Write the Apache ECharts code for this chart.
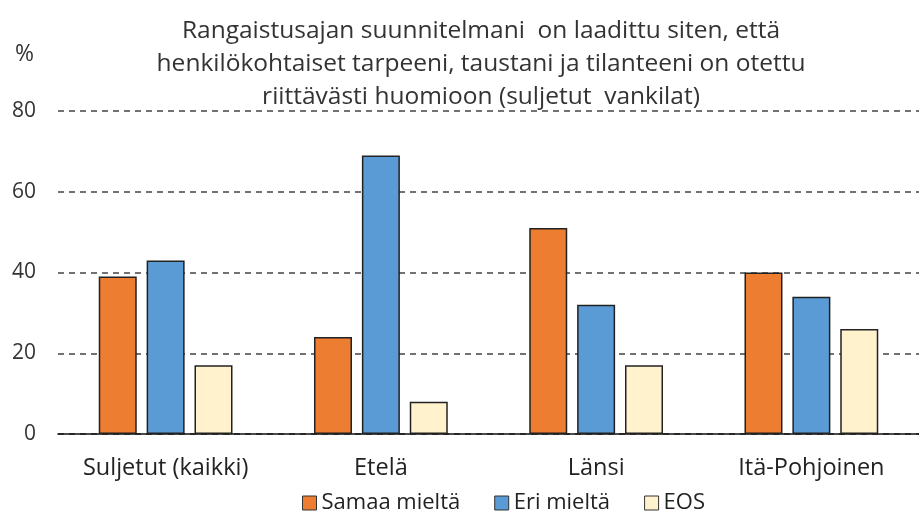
<!DOCTYPE html>
<html><head><meta charset="utf-8">
<script src="https://cdn.jsdelivr.net/npm/echarts@6/dist/echarts.min.js"></script>
<style>html,body{margin:0;padding:0;background:#fff}#c{width:919px;height:513px}</style>
</head><body><div id="c"></div>
<script>
const categories = ["Suljetut (kaikki)", "Etelä", "Länsi", "Itä-Pohjoinen"];
const seriesNames = ["Samaa mieltä", "Eri mieltä", "EOS"];
const samaa = [39, 24, 51, 40];
const eri = [43, 69, 32, 34];
const eos = [17, 8, 17, 26];
const yTicks = [0, 20, 40, 60, 80];
const titleLines = ["Rangaistusajan suunnitelmani  on laadittu siten, että",
  "henkilökohtaiset tarpeeni, taustani ja tilanteeni on otettu",
  "riittävästi huomioon (suljetut  vankilat)"];
const unitLabel = "%";

const colors = ["#ED7D31", "#5B9BD5", "#FFF2CC"];
const font = "'Open Sans', 'Noto Sans', sans-serif";
const chart = echarts.init(document.getElementById('c'), null, {renderer: 'canvas'});
const vals = [samaa, eri, eos];
chart.setOption({
  animation: false,
  title: [{
    text: titleLines.join("\n"),
    left: 476, top: 10, textAlign: 'center',
    textStyle: {fontFamily: font, fontSize: 24.5, fontWeight: 'normal', color: '#333', lineHeight: 33}
  }, {
    text: unitLabel, left: 15, top: 43, padding: 0,
    textStyle: {fontFamily: font, fontSize: 23, fontWeight: 'normal', color: '#333'}
  }],
  legend: {
    data: seriesNames, top: 487, left: 297, itemWidth: 14, itemHeight: 14, itemGap: 34,
    icon: 'rect',
    itemStyle: {borderColor: '#333', borderWidth: 1},
    textStyle: {fontFamily: font, fontSize: 22, color: '#222', padding: [0, 0, 0, 0]}
  },
  grid: {left: 58, right: 0, top: 111, bottom: 79, containLabel: false},
  xAxis: {
    type: 'category', data: categories,
    axisTick: {show: false},
    axisLine: {lineStyle: {color: '#111', width: 1.5}},
    axisLabel: {fontFamily: font, fontSize: 23.5, color: '#222', margin: 22}
  },
  yAxis: {
    type: 'value', min: yTicks[0], max: yTicks[yTicks.length - 1], interval: 20,
    axisLine: {show: false}, axisTick: {show: false},
    axisLabel: {fontFamily: font, fontSize: 21, color: '#333', margin: 22},
    splitLine: {lineStyle: {color: '#444', type: [6, 5], width: 1.5}}
  },
  series: seriesNames.map((n, i) => ({
    name: n, type: 'bar', data: vals[i], barWidth: 38, barGap: '26%',
    itemStyle: {color: colors[i], borderColor: '#222', borderWidth: 1.5}
  }))
});
</script></body></html>
